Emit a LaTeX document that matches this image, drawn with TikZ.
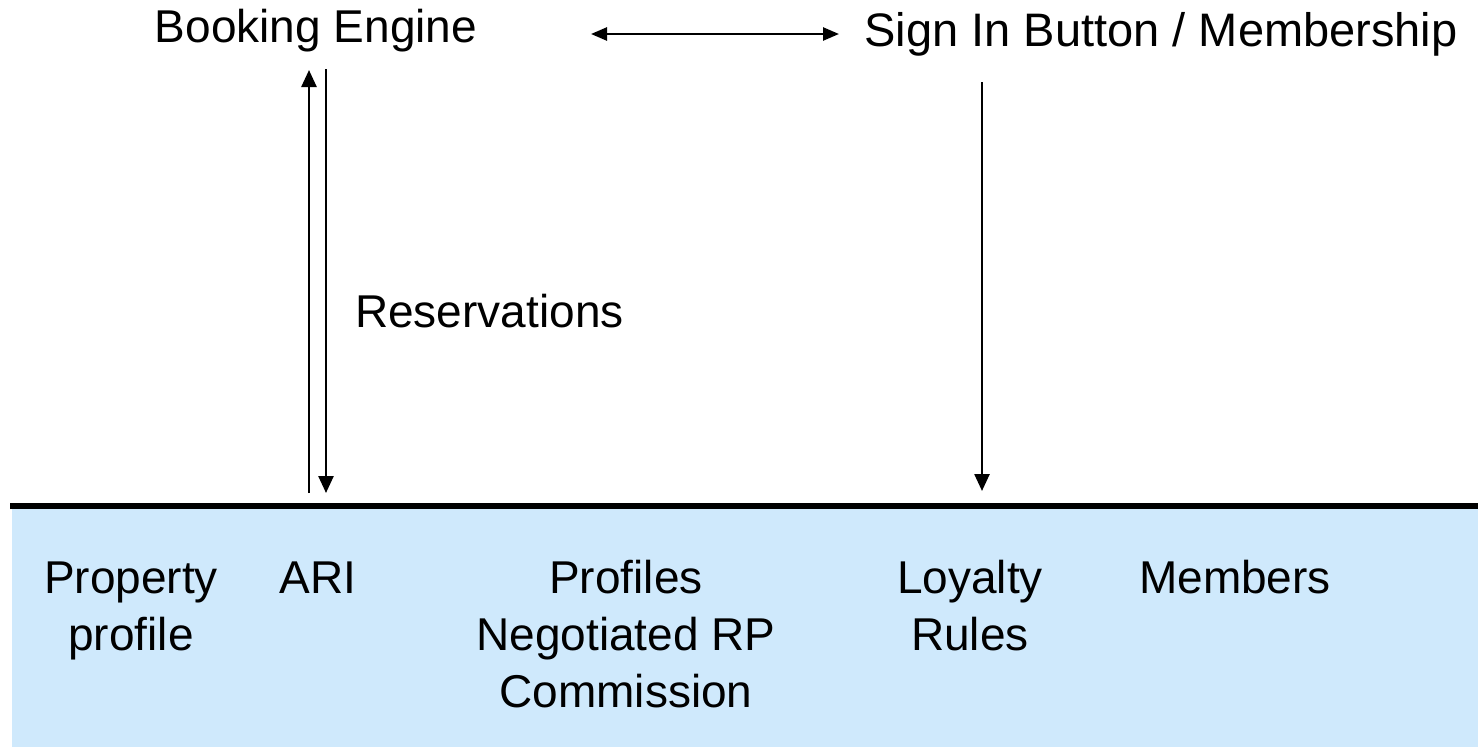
\documentclass[tikz,border=0pt]{standalone}
\usepackage{fontspec}
\setmainfont{Liberation Sans}
\usetikzlibrary{arrows.meta}
\definecolor{bandblue}{RGB}{207,233,252}
\tikzset{
  lbl/.style={inner sep=0pt, anchor=base, align=center,
              font=\fontsize{46}{57}\selectfont},
  link/.style={line width=2.5pt, -{Triangle[length=17pt,width=15pt]}},
  twoway/.style={line width=2.5pt, {Triangle[length=16pt,width=13pt]}-{Triangle[length=16pt,width=13pt]}},
}
\begin{document}
\begin{tikzpicture}[x=1pt,y=-1pt]
\useasboundingbox (0,0) rectangle (1478,747);

% data layer band
\fill[bandblue] (12,509) rectangle (1478,747);
\draw[line width=6.5pt] (10,506) -- (1478,506);

% front-end components
\node[lbl] (be)   at (316,42)   {Booking Engine};
\node[lbl, font=\fontsize{47}{57}\selectfont] (sign) at (1161,46) {Sign In Button / Membership};
\node[lbl, anchor=base west] (res) at (355,327) {Reservations};

% stored data (base anchor sits on the last line)
\node[lbl] (prop) at (131,650)  {Property\\profile};
\node[lbl] (ari)  at (318,593)  {ARI};
\node[lbl] (prof) at (626,707)  {Profiles\\Negotiated RP\\Commission};
\node[lbl] (loy)  at (970,650)  {Loyalty\\Rules};
\node[lbl] (mem)  at (1235,593) {Members};

% connector end points
\coordinate (upFoot)  at (309,493);
\coordinate (upHead)  at (309,70);
\coordinate (dnFoot)  at (326,69);
\coordinate (dnHead)  at (326,493);
\coordinate (biL)     at (591,34);
\coordinate (biR)     at (839,34);
\coordinate (loyFoot) at (982,82);
\coordinate (loyHead) at (982,491);

\draw[link] (upFoot) -- (upHead);
\draw[link] (dnFoot) -- (dnHead);
\draw[twoway] (biL) -- (biR);
\draw[link] (loyFoot) -- (loyHead);
\end{tikzpicture}
\end{document}
